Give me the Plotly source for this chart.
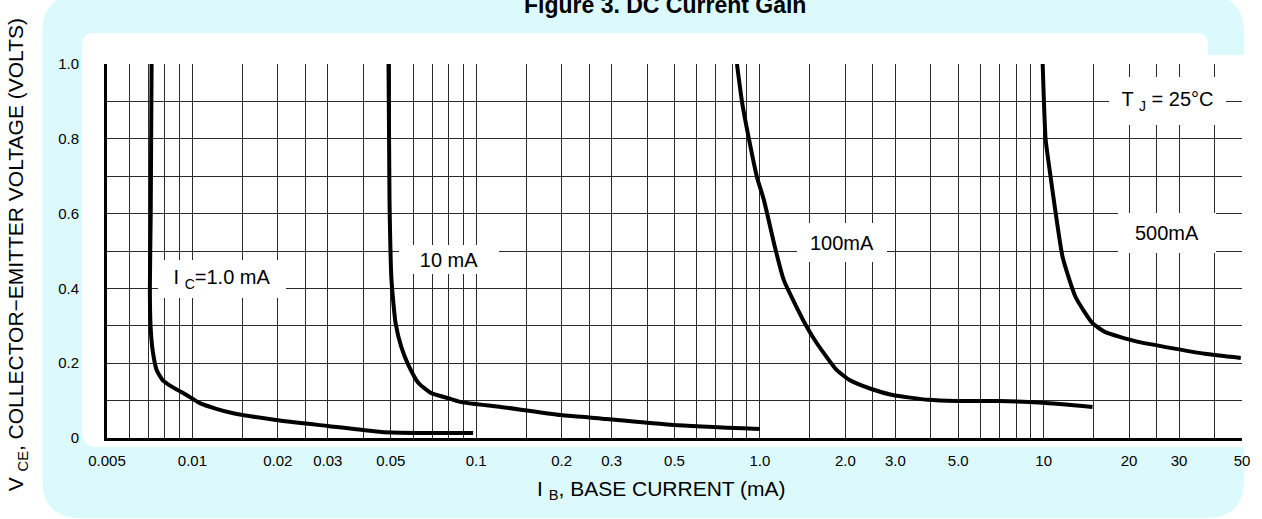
import math
import plotly.graph_objects as go

# ---------------- data ----------------
ib_1ma = [0.00718, 0.00713, 0.00708, 0.00712, 0.00724, 0.00748, 0.00785, 0.00851, 0.00953, 0.01058, 0.01214, 0.0138, 0.0197, 0.0300, 0.0464, 0.0626, 0.0976]
vce_1ma = [1.0, 0.600, 0.400, 0.300, 0.235, 0.182, 0.155, 0.136, 0.115, 0.094, 0.078, 0.067, 0.048, 0.032, 0.016, 0.0134, 0.0134]

ib_10ma = [0.0491, 0.0495, 0.0503, 0.0520, 0.0545, 0.0577, 0.0626, 0.0695, 0.0817, 0.0886, 0.1224, 0.1987, 0.288, 0.495, 1.0]
vce_10ma = [1.0, 0.636, 0.422, 0.307, 0.243, 0.195, 0.147, 0.120, 0.104, 0.096, 0.083, 0.0615, 0.051, 0.035, 0.024]

ib_100ma = [0.830, 0.865, 0.915, 0.976, 1.033, 1.129, 1.214, 1.439, 1.585, 1.863, 2.07, 2.47, 2.93, 3.92, 4.95, 6.95, 9.92, 14.86]
vce_100ma = [1.0, 0.898, 0.799, 0.698, 0.636, 0.511, 0.422, 0.307, 0.254, 0.182, 0.155, 0.131, 0.115, 0.102, 0.099, 0.099, 0.094, 0.083]

ib_500ma = [9.92, 10.16, 10.58, 11.02, 11.66, 12.95, 14.86, 16.50, 21.02, 27.9, 37.0, 49.5]
vce_500ma = [1.0, 0.799, 0.698, 0.602, 0.484, 0.377, 0.307, 0.283, 0.259, 0.241, 0.225, 0.214]

x_tickvals = [0.005, 0.01, 0.02, 0.03, 0.05, 0.1, 0.2, 0.3, 0.5, 1, 2, 3, 5, 10, 20, 30, 50]
x_ticktext = ["0.005", "0.01", "0.02", "0.03", "0.05", "0.1", "0.2", "0.3", "0.5",
              "1.0", "2.0", "3.0", "5.0", "10", "20", "30", "50"]
grid_mults = [1, 1.5, 2, 2.5, 3, 4, 5, 6, 7, 8, 9]
grid_decades = [0.001, 0.01, 0.1, 1, 10]
y_tickvals = [0, 0.2, 0.4, 0.6, 0.8, 1.0]
y_ticktext = ["0", "0.2", "0.4", "0.6", "0.8", "1.0"]

X_MIN, X_MAX = 0.005, 50

# ---------------- layout geometry ----------------
W, H = 1262, 519
L, R, T, B = 107, 16, 64, 81
PW, PH = W - L - R, H - T - B

def px(x):
    return (x - L) / PW

def py(y):
    return (H - B - y) / PH

FONT = "Liberation Sans, Arial, sans-serif"
CYAN = "#DCFAFC"
GRID = "#2b2b2b"

minor_grid = sorted({round(m * d, 6) for d in grid_decades for m in grid_mults
                     if X_MIN <= m * d <= X_MAX} - set(x_tickvals))

fig = go.Figure()
for xs, ys in [(ib_1ma, vce_1ma), (ib_10ma, vce_10ma), (ib_100ma, vce_100ma), (ib_500ma, vce_500ma)]:
    fig.add_trace(go.Scatter(x=xs, y=ys, mode="lines",
                             line=dict(color="black", width=4, shape="spline", smoothing=0.5),
                             showlegend=False, hoverinfo="skip"))

# background cyan rounded rectangle
cx0, cx1, cy0, cy1, cr = 42, 1248, -5, 518, 38
cyan_path = (
    f"M {px(cx0)},{py(cy0 + cr)} Q {px(cx0)},{py(cy0)} {px(cx0 + cr)},{py(cy0)} "
    f"L {px(cx1 - cr)},{py(cy0)} Q {px(cx1)},{py(cy0)} {px(cx1)},{py(cy0 + cr)} "
    f"L {px(cx1)},{py(cy1 - cr)} Q {px(cx1)},{py(cy1)} {px(cx1 - cr)},{py(cy1)} "
    f"L {px(cx0 + cr)},{py(cy1)} Q {px(cx0)},{py(cy1)} {px(cx0)},{py(cy1 - cr)} Z"
)
# white panel
wr = 12
white_path = (
    f"M {px(82)},{py(33 + wr)} Q {px(82)},{py(33)} {px(82 + wr)},{py(33)} "
    f"L {px(1200)},{py(33)} Q {px(1212)},{py(33)} {px(1212)},{py(45)} "
    f"L {px(1212)},{py(55)} L {px(1275)},{py(55)} L {px(1275)},{py(447)} "
    f"L {px(82 + 15)},{py(447)} Q {px(82)},{py(447)} {px(82)},{py(432)} Z"
)
shapes = [
    dict(type="path", path=cyan_path, xref="paper", yref="paper",
         fillcolor=CYAN, line=dict(width=0), layer="below"),
    dict(type="path", path=white_path, xref="paper", yref="paper",
         fillcolor="white", line=dict(width=0), layer="below"),
]

# label boxes (pixel boxes) with their texts
labels = [
    ("I <sub>C</sub>=1.0 mA", (158, 286, 260, 298)),
    ("10 mA", (400, 500, 245, 274)),
    ("100mA", (800, 890, 223, 262)),
    ("500mA", (1122, 1220, 213, 253)),
    ("T <sub>J</sub> = 25°C", (1113, 1230, 77, 125)),
]
annotations = []
for text, (bx0, bx1, by0, by1) in labels:
    annotations.append(dict(text=text, xref="paper", yref="paper",
                            x=px((bx0 + bx1) / 2), y=py((by0 + by1) / 2),
                            xanchor="center", yanchor="middle", showarrow=False,
                            width=bx1 - bx0, height=by1 - by0, bgcolor="white",
                            borderpad=0, borderwidth=0, align="center", valign="middle",
                            font=dict(family=FONT, size=20, color="black")))

annotations += [
    dict(text="<b>Figure 3. DC Current Gain</b>", xref="paper", yref="paper",
         x=px(667), y=py(5), xanchor="center", yanchor="middle", showarrow=False,
         font=dict(family=FONT, size=23, color="black")),
    dict(text="I <sub>B</sub>, BASE CURRENT (mA)", xref="paper", yref="paper",
         x=px(663), y=py(490), xanchor="center", yanchor="middle", showarrow=False,
         font=dict(family=FONT, size=21, color="black")),
    dict(text="V <sub>CE</sub>, COLLECTOR\u2212EMITTER VOLTAGE (VOLTS)", xref="paper", yref="paper",
         x=px(17), y=py(255), xanchor="center", yanchor="middle", showarrow=False,
         textangle=-90, font=dict(family=FONT, size=21, color="black")),
]

fig.update_layout(
    width=W, height=H,
    margin=dict(l=L, r=R, t=T, b=B, pad=0),
    paper_bgcolor="white", plot_bgcolor="rgba(0,0,0,0)",
    shapes=shapes, annotations=annotations, showlegend=False,
    xaxis=dict(type="log", range=[math.log10(X_MIN), math.log10(X_MAX)],
               tickmode="array", tickvals=x_tickvals, ticktext=x_ticktext,
               showgrid=True, gridcolor=GRID, gridwidth=1,
               minor=dict(tickmode="array", tickvals=minor_grid, showgrid=True,
                          gridcolor=GRID, gridwidth=1),
               showline=True, linecolor="black", linewidth=3,
               ticks="outside", ticklen=7, tickcolor="rgba(0,0,0,0)",
               tickfont=dict(family=FONT, size=15, color="black"),
               zeroline=False, fixedrange=True),
    yaxis=dict(range=[0, 1], tickmode="array", tickvals=y_tickvals, ticktext=y_ticktext,
               showgrid=True, gridcolor=GRID, gridwidth=1,
               minor=dict(dtick=0.1, showgrid=True, gridcolor=GRID, gridwidth=1),
               showline=True, linecolor="black", linewidth=3,
               ticks="outside", ticklen=22, tickcolor="rgba(0,0,0,0)",
               tickfont=dict(family=FONT, size=15, color="black"),
               zeroline=False, fixedrange=True),
)

fig.write_html("out.html")
